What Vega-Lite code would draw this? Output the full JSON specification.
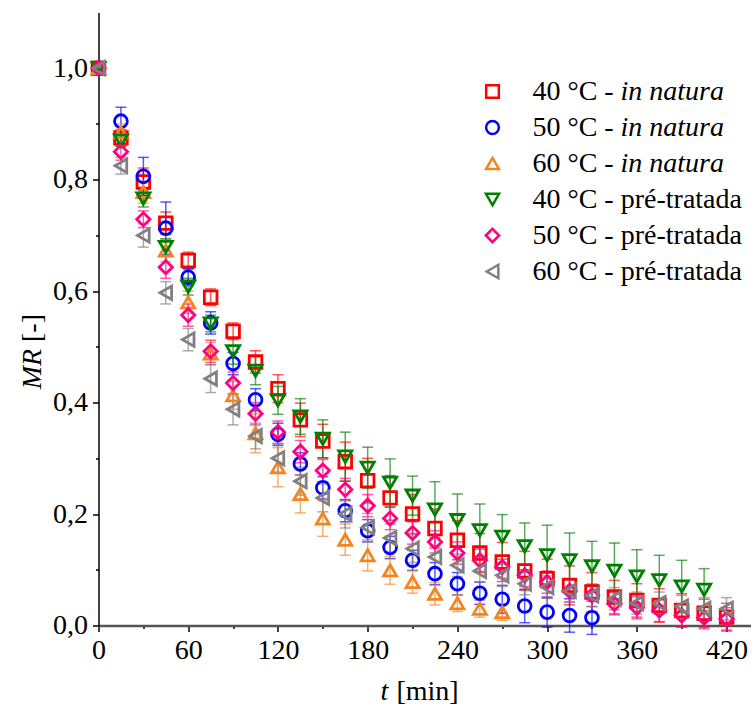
{
  "$schema": "https://vega.github.io/schema/vega-lite/v6.json",
  "width": 652,
  "height": 613,
  "autosize": {"type": "none"},
  "padding": {"left": 98.5, "top": 12.5, "right": 1.5, "bottom": 80.5},
  "background": "white",
  "config": {
    "view": {"stroke": null},
    "font": "Liberation Serif",
    "axis": {"grid": false, "labelFlush": false, "labelOverlap": false, "labelColor": "black", "titleColor": "black", "tickColor": "black", "labelFont": "Liberation Serif", "titleFont": "Liberation Serif", "titleFontWeight": "normal"},
    "legend": {"labelColor": "black", "labelFont": "Liberation Serif"},
    "errorbar": {"ticks": {"size": 11, "thickness": 1.5}, "rule": {"strokeWidth": 1.5}}
  },
  "datasets": {
    "d": [
      {"series": "40 °C - in natura", "t": 0, "MR": 1.0, "err": 0},
      {"series": "40 °C - in natura", "t": 15, "MR": 0.875, "err": 0.015},
      {"series": "40 °C - in natura", "t": 30, "MR": 0.796, "err": 0.025},
      {"series": "40 °C - in natura", "t": 45, "MR": 0.722, "err": 0.02},
      {"series": "40 °C - in natura", "t": 60, "MR": 0.655, "err": 0.015},
      {"series": "40 °C - in natura", "t": 75, "MR": 0.589, "err": 0.015},
      {"series": "40 °C - in natura", "t": 90, "MR": 0.528, "err": 0.015},
      {"series": "40 °C - in natura", "t": 105, "MR": 0.473, "err": 0.02},
      {"series": "40 °C - in natura", "t": 120, "MR": 0.425, "err": 0.025},
      {"series": "40 °C - in natura", "t": 135, "MR": 0.369, "err": 0.03},
      {"series": "40 °C - in natura", "t": 150, "MR": 0.331, "err": 0.03},
      {"series": "40 °C - in natura", "t": 165, "MR": 0.294, "err": 0.035},
      {"series": "40 °C - in natura", "t": 180, "MR": 0.26, "err": 0.04},
      {"series": "40 °C - in natura", "t": 195, "MR": 0.229, "err": 0.04},
      {"series": "40 °C - in natura", "t": 210, "MR": 0.2, "err": 0.035},
      {"series": "40 °C - in natura", "t": 225, "MR": 0.174, "err": 0.035},
      {"series": "40 °C - in natura", "t": 240, "MR": 0.153, "err": 0.035},
      {"series": "40 °C - in natura", "t": 255, "MR": 0.13, "err": 0.035},
      {"series": "40 °C - in natura", "t": 270, "MR": 0.114, "err": 0.035},
      {"series": "40 °C - in natura", "t": 285, "MR": 0.098, "err": 0.035},
      {"series": "40 °C - in natura", "t": 300, "MR": 0.084, "err": 0.035},
      {"series": "40 °C - in natura", "t": 315, "MR": 0.072, "err": 0.035},
      {"series": "40 °C - in natura", "t": 330, "MR": 0.06, "err": 0.035},
      {"series": "40 °C - in natura", "t": 345, "MR": 0.051, "err": 0.03},
      {"series": "40 °C - in natura", "t": 360, "MR": 0.045, "err": 0.03},
      {"series": "40 °C - in natura", "t": 375, "MR": 0.036, "err": 0.03},
      {"series": "40 °C - in natura", "t": 390, "MR": 0.027, "err": 0.03},
      {"series": "40 °C - in natura", "t": 405, "MR": 0.022, "err": 0.025},
      {"series": "40 °C - in natura", "t": 420, "MR": 0.015, "err": 0.025},

      {"series": "50 °C - in natura", "t": 0, "MR": 1.0, "err": 0},
      {"series": "50 °C - in natura", "t": 15, "MR": 0.905, "err": 0.025},
      {"series": "50 °C - in natura", "t": 30, "MR": 0.806, "err": 0.034},
      {"series": "50 °C - in natura", "t": 45, "MR": 0.713, "err": 0.047},
      {"series": "50 °C - in natura", "t": 60, "MR": 0.625, "err": 0.015},
      {"series": "50 °C - in natura", "t": 75, "MR": 0.543, "err": 0.02},
      {"series": "50 °C - in natura", "t": 90, "MR": 0.47, "err": 0.02},
      {"series": "50 °C - in natura", "t": 105, "MR": 0.405, "err": 0.02},
      {"series": "50 °C - in natura", "t": 120, "MR": 0.343, "err": 0.02},
      {"series": "50 °C - in natura", "t": 135, "MR": 0.29, "err": 0.02},
      {"series": "50 °C - in natura", "t": 150, "MR": 0.247, "err": 0.02},
      {"series": "50 °C - in natura", "t": 165, "MR": 0.206, "err": 0.02},
      {"series": "50 °C - in natura", "t": 180, "MR": 0.17, "err": 0.02},
      {"series": "50 °C - in natura", "t": 195, "MR": 0.14, "err": 0.02},
      {"series": "50 °C - in natura", "t": 210, "MR": 0.117, "err": 0.018},
      {"series": "50 °C - in natura", "t": 225, "MR": 0.093, "err": 0.02},
      {"series": "50 °C - in natura", "t": 240, "MR": 0.075, "err": 0.02},
      {"series": "50 °C - in natura", "t": 255, "MR": 0.058, "err": 0.02},
      {"series": "50 °C - in natura", "t": 270, "MR": 0.047, "err": 0.025},
      {"series": "50 °C - in natura", "t": 285, "MR": 0.035, "err": 0.03},
      {"series": "50 °C - in natura", "t": 300, "MR": 0.024, "err": 0.027},
      {"series": "50 °C - in natura", "t": 315, "MR": 0.018, "err": 0.03},
      {"series": "50 °C - in natura", "t": 330, "MR": 0.014, "err": 0.03},

      {"series": "60 °C - in natura", "t": 0, "MR": 1.0, "err": 0},
      {"series": "60 °C - in natura", "t": 15, "MR": 0.885, "err": 0.015},
      {"series": "60 °C - in natura", "t": 30, "MR": 0.778, "err": 0.02},
      {"series": "60 °C - in natura", "t": 45, "MR": 0.673, "err": 0.02},
      {"series": "60 °C - in natura", "t": 60, "MR": 0.58, "err": 0.02},
      {"series": "60 °C - in natura", "t": 75, "MR": 0.488, "err": 0.02},
      {"series": "60 °C - in natura", "t": 90, "MR": 0.413, "err": 0.025},
      {"series": "60 °C - in natura", "t": 105, "MR": 0.345, "err": 0.035},
      {"series": "60 °C - in natura", "t": 120, "MR": 0.284, "err": 0.035},
      {"series": "60 °C - in natura", "t": 135, "MR": 0.236, "err": 0.034},
      {"series": "60 °C - in natura", "t": 150, "MR": 0.192, "err": 0.032},
      {"series": "60 °C - in natura", "t": 165, "MR": 0.154, "err": 0.028},
      {"series": "60 °C - in natura", "t": 180, "MR": 0.126, "err": 0.028},
      {"series": "60 °C - in natura", "t": 195, "MR": 0.099, "err": 0.025},
      {"series": "60 °C - in natura", "t": 210, "MR": 0.078, "err": 0.02},
      {"series": "60 °C - in natura", "t": 225, "MR": 0.057, "err": 0.02},
      {"series": "60 °C - in natura", "t": 240, "MR": 0.04, "err": 0.015},
      {"series": "60 °C - in natura", "t": 255, "MR": 0.03, "err": 0.015},
      {"series": "60 °C - in natura", "t": 270, "MR": 0.024, "err": 0.015},

      {"series": "40 °C - pré-tratada", "t": 0, "MR": 1.0, "err": 0},
      {"series": "40 °C - pré-tratada", "t": 15, "MR": 0.87, "err": 0.01},
      {"series": "40 °C - pré-tratada", "t": 30, "MR": 0.766, "err": 0.015},
      {"series": "40 °C - pré-tratada", "t": 45, "MR": 0.679, "err": 0.015},
      {"series": "40 °C - pré-tratada", "t": 60, "MR": 0.608, "err": 0.015},
      {"series": "40 °C - pré-tratada", "t": 75, "MR": 0.542, "err": 0.015},
      {"series": "40 °C - pré-tratada", "t": 90, "MR": 0.492, "err": 0.023},
      {"series": "40 °C - pré-tratada", "t": 105, "MR": 0.457, "err": 0.025},
      {"series": "40 °C - pré-tratada", "t": 120, "MR": 0.404, "err": 0.025},
      {"series": "40 °C - pré-tratada", "t": 135, "MR": 0.375, "err": 0.032},
      {"series": "40 °C - pré-tratada", "t": 150, "MR": 0.335, "err": 0.034},
      {"series": "40 °C - pré-tratada", "t": 165, "MR": 0.303, "err": 0.044},
      {"series": "40 °C - pré-tratada", "t": 180, "MR": 0.283, "err": 0.037},
      {"series": "40 °C - pré-tratada", "t": 195, "MR": 0.256, "err": 0.043},
      {"series": "40 °C - pré-tratada", "t": 210, "MR": 0.233, "err": 0.035},
      {"series": "40 °C - pré-tratada", "t": 225, "MR": 0.208, "err": 0.05},
      {"series": "40 °C - pré-tratada", "t": 240, "MR": 0.189, "err": 0.047},
      {"series": "40 °C - pré-tratada", "t": 255, "MR": 0.171, "err": 0.047},
      {"series": "40 °C - pré-tratada", "t": 270, "MR": 0.159, "err": 0.04},
      {"series": "40 °C - pré-tratada", "t": 285, "MR": 0.142, "err": 0.042},
      {"series": "40 °C - pré-tratada", "t": 300, "MR": 0.126, "err": 0.054},
      {"series": "40 °C - pré-tratada", "t": 315, "MR": 0.117, "err": 0.049},
      {"series": "40 °C - pré-tratada", "t": 330, "MR": 0.106, "err": 0.045},
      {"series": "40 °C - pré-tratada", "t": 345, "MR": 0.098, "err": 0.05},
      {"series": "40 °C - pré-tratada", "t": 360, "MR": 0.088, "err": 0.048},
      {"series": "40 °C - pré-tratada", "t": 375, "MR": 0.081, "err": 0.045},
      {"series": "40 °C - pré-tratada", "t": 390, "MR": 0.07, "err": 0.047},
      {"series": "40 °C - pré-tratada", "t": 405, "MR": 0.064, "err": 0.038},

      {"series": "50 °C - pré-tratada", "t": 0, "MR": 1.0, "err": 0},
      {"series": "50 °C - pré-tratada", "t": 15, "MR": 0.85, "err": 0.015},
      {"series": "50 °C - pré-tratada", "t": 30, "MR": 0.729, "err": 0.015},
      {"series": "50 °C - pré-tratada", "t": 45, "MR": 0.643, "err": 0.02},
      {"series": "50 °C - pré-tratada", "t": 60, "MR": 0.557, "err": 0.02},
      {"series": "50 °C - pré-tratada", "t": 75, "MR": 0.492, "err": 0.02},
      {"series": "50 °C - pré-tratada", "t": 90, "MR": 0.435, "err": 0.02},
      {"series": "50 °C - pré-tratada", "t": 105, "MR": 0.38, "err": 0.02},
      {"series": "50 °C - pré-tratada", "t": 120, "MR": 0.347, "err": 0.02},
      {"series": "50 °C - pré-tratada", "t": 135, "MR": 0.312, "err": 0.02},
      {"series": "50 °C - pré-tratada", "t": 150, "MR": 0.278, "err": 0.02},
      {"series": "50 °C - pré-tratada", "t": 165, "MR": 0.244, "err": 0.02},
      {"series": "50 °C - pré-tratada", "t": 180, "MR": 0.215, "err": 0.02},
      {"series": "50 °C - pré-tratada", "t": 195, "MR": 0.192, "err": 0.02},
      {"series": "50 °C - pré-tratada", "t": 210, "MR": 0.166, "err": 0.02},
      {"series": "50 °C - pré-tratada", "t": 225, "MR": 0.15, "err": 0.02},
      {"series": "50 °C - pré-tratada", "t": 240, "MR": 0.13, "err": 0.02},
      {"series": "50 °C - pré-tratada", "t": 255, "MR": 0.117, "err": 0.02},
      {"series": "50 °C - pré-tratada", "t": 270, "MR": 0.105, "err": 0.02},
      {"series": "50 °C - pré-tratada", "t": 285, "MR": 0.09, "err": 0.02},
      {"series": "50 °C - pré-tratada", "t": 300, "MR": 0.078, "err": 0.02},
      {"series": "50 °C - pré-tratada", "t": 315, "MR": 0.062, "err": 0.02},
      {"series": "50 °C - pré-tratada", "t": 330, "MR": 0.054, "err": 0.02},
      {"series": "50 °C - pré-tratada", "t": 345, "MR": 0.039, "err": 0.02},
      {"series": "50 °C - pré-tratada", "t": 360, "MR": 0.032, "err": 0.02},
      {"series": "50 °C - pré-tratada", "t": 375, "MR": 0.027, "err": 0.02},
      {"series": "50 °C - pré-tratada", "t": 390, "MR": 0.018, "err": 0.02},
      {"series": "50 °C - pré-tratada", "t": 405, "MR": 0.014, "err": 0.02},
      {"series": "50 °C - pré-tratada", "t": 420, "MR": 0.012, "err": 0.02},

      {"series": "60 °C - pré-tratada", "t": 0, "MR": 1.0, "err": 0},
      {"series": "60 °C - pré-tratada", "t": 15, "MR": 0.825, "err": 0.015},
      {"series": "60 °C - pré-tratada", "t": 30, "MR": 0.7, "err": 0.021},
      {"series": "60 °C - pré-tratada", "t": 45, "MR": 0.597, "err": 0.02},
      {"series": "60 °C - pré-tratada", "t": 60, "MR": 0.513, "err": 0.02},
      {"series": "60 °C - pré-tratada", "t": 75, "MR": 0.443, "err": 0.025},
      {"series": "60 °C - pré-tratada", "t": 90, "MR": 0.388, "err": 0.028},
      {"series": "60 °C - pré-tratada", "t": 105, "MR": 0.34, "err": 0.023},
      {"series": "60 °C - pré-tratada", "t": 120, "MR": 0.3, "err": 0.025},
      {"series": "60 °C - pré-tratada", "t": 135, "MR": 0.259, "err": 0.025},
      {"series": "60 °C - pré-tratada", "t": 150, "MR": 0.229, "err": 0.025},
      {"series": "60 °C - pré-tratada", "t": 165, "MR": 0.2, "err": 0.025},
      {"series": "60 °C - pré-tratada", "t": 180, "MR": 0.176, "err": 0.025},
      {"series": "60 °C - pré-tratada", "t": 195, "MR": 0.157, "err": 0.025},
      {"series": "60 °C - pré-tratada", "t": 210, "MR": 0.138, "err": 0.025},
      {"series": "60 °C - pré-tratada", "t": 225, "MR": 0.123, "err": 0.02},
      {"series": "60 °C - pré-tratada", "t": 240, "MR": 0.108, "err": 0.02},
      {"series": "60 °C - pré-tratada", "t": 255, "MR": 0.098, "err": 0.02},
      {"series": "60 °C - pré-tratada", "t": 270, "MR": 0.09, "err": 0.02},
      {"series": "60 °C - pré-tratada", "t": 285, "MR": 0.075, "err": 0.02},
      {"series": "60 °C - pré-tratada", "t": 300, "MR": 0.069, "err": 0.02},
      {"series": "60 °C - pré-tratada", "t": 315, "MR": 0.062, "err": 0.02},
      {"series": "60 °C - pré-tratada", "t": 330, "MR": 0.054, "err": 0.02},
      {"series": "60 °C - pré-tratada", "t": 345, "MR": 0.048, "err": 0.02},
      {"series": "60 °C - pré-tratada", "t": 360, "MR": 0.04, "err": 0.02},
      {"series": "60 °C - pré-tratada", "t": 375, "MR": 0.04, "err": 0.02},
      {"series": "60 °C - pré-tratada", "t": 390, "MR": 0.034, "err": 0.02},
      {"series": "60 °C - pré-tratada", "t": 405, "MR": 0.03, "err": 0.02},
      {"series": "60 °C - pré-tratada", "t": 420, "MR": 0.03, "err": 0.02}
    ]
  },
  "data": {"name": "d"},
  "layer": [
    {
      "transform": [{"filter": "datum.series === '40 °C - in natura'"}],
      "mark": {"type": "errorbar", "color": "#FF0000", "opacity": 0.65},
      "encoding": {
        "x": {"field": "t", "type": "quantitative", "scale": {"domain": [0, 436], "nice": false},
          "axis": {"orient": "bottom", "values": [30, 90, 150, 210, 270, 330, 390], "labels": false, "domain": false, "tickSize": 3, "tickWidth": 1.5,
            "title": "[min]", "titleFontSize": 28, "titleFontStyle": "normal", "titleX": 328.5, "titleY": 73.5, "titleBaseline": "alphabetic", "titleAlign": "center"}},
        "y": {"field": "MR", "type": "quantitative", "scale": {"domain": [0, 1.1], "nice": false},
          "axis": {"orient": "left", "values": [0.1, 0.3, 0.5, 0.7, 0.9], "labels": false, "domain": false, "tickSize": 3, "tickWidth": 1.5,
            "title": "[-]", "titleFontSize": 28, "titleFontStyle": "normal", "titleAngle": 270, "titleX": -58, "titleY": 315, "titleBaseline": "alphabetic", "titleAlign": "center"}},
        "yError": {"field": "err"}
      }
    },
    {
      "transform": [{"filter": "datum.series === '50 °C - in natura'"}],
      "mark": {"type": "errorbar", "color": "#0000FF", "opacity": 0.65},
      "encoding": {
        "x": {"field": "t", "type": "quantitative", "axis": null},
        "y": {"field": "MR", "type": "quantitative", "axis": null},
        "yError": {"field": "err"}
      }
    },
    {
      "transform": [{"filter": "datum.series === '60 °C - in natura'"}],
      "mark": {"type": "errorbar", "color": "#F28522", "opacity": 0.65},
      "encoding": {
        "x": {"field": "t", "type": "quantitative", "axis": null},
        "y": {"field": "MR", "type": "quantitative", "axis": null},
        "yError": {"field": "err"}
      }
    },
    {
      "transform": [{"filter": "datum.series === '40 °C - pré-tratada'"}],
      "mark": {"type": "errorbar", "color": "#008000", "opacity": 0.65},
      "encoding": {
        "x": {"field": "t", "type": "quantitative", "axis": null},
        "y": {"field": "MR", "type": "quantitative", "axis": null},
        "yError": {"field": "err"}
      }
    },
    {
      "transform": [{"filter": "datum.series === '50 °C - pré-tratada'"}],
      "mark": {"type": "errorbar", "color": "#FF0080", "opacity": 0.65},
      "encoding": {
        "x": {"field": "t", "type": "quantitative", "axis": null},
        "y": {"field": "MR", "type": "quantitative", "axis": null},
        "yError": {"field": "err"}
      }
    },
    {
      "transform": [{"filter": "datum.series === '60 °C - pré-tratada'"}],
      "mark": {"type": "errorbar", "color": "#808080", "opacity": 0.65},
      "encoding": {
        "x": {"field": "t", "type": "quantitative", "axis": null},
        "y": {"field": "MR", "type": "quantitative", "axis": null},
        "yError": {"field": "err"}
      }
    },
    {
      "mark": {"type": "point", "filled": false, "strokeWidth": 2.8, "opacity": 1},
      "encoding": {
        "x": {"field": "t", "type": "quantitative",
          "axis": {"orient": "bottom", "values": [0, 60, 120, 180, 240, 300, 360, 420], "tickSize": 6, "tickWidth": 1.5, "labelFontSize": 28, "labelPadding": 5,
            "domainColor": "#555555", "domainWidth": 2.5,
            "title": "t", "titleFontSize": 28, "titleFontStyle": "italic", "titleX": 285.5, "titleY": 73.5, "titleBaseline": "alphabetic", "titleAlign": "center"}},
        "y": {"field": "MR", "type": "quantitative",
          "axis": {"orient": "left", "values": [0, 0.2, 0.4, 0.6, 0.8, 1.0], "tickSize": 6, "tickWidth": 1.5, "labelFontSize": 28, "labelPadding": 5,
            "labelExpr": "replace(format(datum.value, '.1f'), '.', ',')",
            "domainColor": "black", "domainWidth": 1.5,
            "title": "MR", "titleFontSize": 28, "titleFontStyle": "italic", "titleAngle": 270, "titleX": -58, "titleY": 356, "titleBaseline": "alphabetic", "titleAlign": "center"}},
        "color": {"field": "series", "type": "nominal",
          "scale": {"domain": ["40 °C - in natura", "50 °C - in natura", "60 °C - in natura", "40 °C - pré-tratada", "50 °C - pré-tratada", "60 °C - pré-tratada"],
            "range": ["#FF0000", "#0000FF", "#F28522", "#008000", "#FF0080", "#808080"]},
          "legend": {"title": null, "orient": "none", "legendX": 380, "legendY": 65, "labelFontSize": 28, "symbolSize": 64, "symbolStrokeWidth": 2.5, "rowPadding": 8, "labelOffset": 26, "labelLimit": 400,
            "labelExpr": "replace(datum.label, 'in natura', '')"}},
        "shape": {"field": "series", "type": "nominal",
          "scale": {"domain": ["40 °C - in natura", "50 °C - in natura", "60 °C - in natura", "40 °C - pré-tratada", "50 °C - pré-tratada", "60 °C - pré-tratada"],
            "range": ["square", "circle", "triangle-up", "triangle-down", "diamond", "triangle-left"]}},
        "size": {"field": "series", "type": "nominal", "legend": null,
          "scale": {"domain": ["40 °C - in natura", "50 °C - in natura", "60 °C - in natura", "40 °C - pré-tratada", "50 °C - pré-tratada", "60 °C - pré-tratada"],
            "range": [160, 180, 260, 280, 280, 260]}}
      }
    },
    {
      "transform": [{"filter": "indexof(datum.series, 'natura') >= 0"}],
      "mark": {"type": "point", "filled": false},
      "encoding": {
        "x": {"field": "t", "type": "quantitative", "axis": null},
        "y": {"field": "MR", "type": "quantitative", "axis": null},
        "opacity": {"field": "series", "type": "ordinal",
          "scale": {"type": "ordinal", "domain": ["40 °C - in natura", "50 °C - in natura", "60 °C - in natura"], "range": [0, 0, 0]},
          "legend": {"title": null, "orient": "none", "legendX": 468, "legendY": 65, "values": ["40 °C - in natura", "50 °C - in natura", "60 °C - in natura"], "labelFontSize": 28, "labelFontStyle": "italic", "symbolSize": 64, "symbolStrokeWidth": 2.5, "rowPadding": 8, "labelOffset": 26, "labelLimit": 400,
            "labelExpr": "'in natura'"}}
      }
    }
  ],
  "resolve": {"axis": {"x": "independent", "y": "independent"}, "scale": {"opacity": "independent"}}
}
